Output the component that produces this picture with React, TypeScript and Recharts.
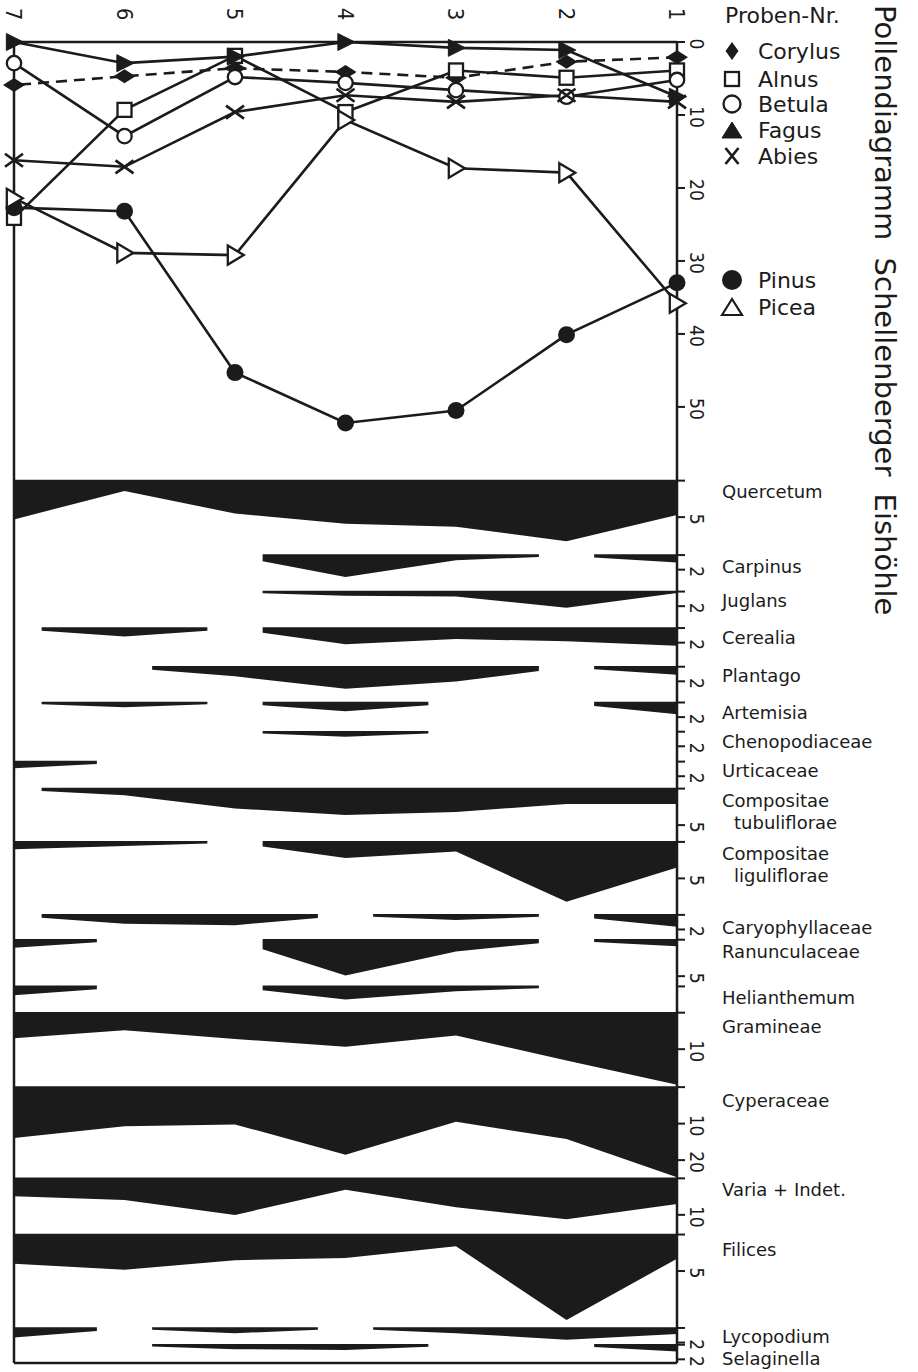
import React from "react";
import { Area, ComposedChart, Line, ReferenceLine, XAxis, YAxis } from "recharts";

const INK = "#1b1b1b";
const SANS = "'DejaVu Sans', Lato, sans-serif";
const NUM = "'DejaVu Sans Condensed', 'DejaVu Sans', sans-serif";

const W = 918;
const H = 1372;

// Proben-Nr.
const samples = [1, 2, 3, 4, 5, 6, 7];

// Baumpollen in %, Probe 1..7
const corylus = [2.1, 2.7, 4.9, 4.1, 3.6, 4.7, 5.9];
const alnus = [3.9, 4.9, 3.9, 9.6, 1.9, 9.3, 24.1];
const betula = [5.2, 7.5, 6.6, 5.6, 4.8, 12.9, 2.9];
const fagus = [7.5, 1.1, 0.8, 0, 2.0, 2.9, 0];
const abies = [8.2, 7.3, 8.2, 7.3, 9.6, 17.1, 16.2];
const pinus = [33.0, 40.1, 50.5, 52.2, 45.3, 23.2, 22.7];
const picea = [35.8, 17.9, 17.3, 10.7, 29.2, 28.9, 21.4];

const treeTicks = [0, 10, 20, 30, 40, 50];

// Silhouetten in %, Probe 1..7
const quercetum = [4.6, 8.2, 6.2, 5.8, 4.4, 1.3, 5.2];
const carpinus = [0.9, 0, 0.6, 2.9, 0, 0, 0];
const juglans = [0.1, 2.1, 0.55, 0.45, 0, 0, 0];
const cerealia = [2.3, 1.7, 1.4, 2.1, 0, 1.05, 0];
const plantago = [1.0, 0, 1.9, 2.9, 1.2, 0, 0];
const artemisia = [1.5, 0, 0, 1.1, 0, 0.55, 0];
const chenopodiaceae = [0, 0, 0, 0.6, 0, 0, 0];
const urticaceae = [0, 0, 0, 0, 0, 0, 0.8];
const compTubuliflorae = [2.0, 2.0, 3.1, 3.5, 2.6, 0.8, 0];
const compLiguliflorae = [3.4, 8.1, 1.2, 2.1, 0, 0.45, 0.9];
const caryophyllaceae = [1.5, 0, 0.6, 0, 1.3, 1.1, 0];
const ranunculaceae = [0.8, 0, 1.5, 4.8, 0, 0, 1.0];
const helianthemum = [0, 0, 0.55, 1.7, 0, 0, 1.1];
const gramineae = [19.5, 12.9, 6.0, 9.1, 7.0, 4.6, 6.8];
const cyperaceae = [24.5, 14.0, 9.3, 18.3, 10.0, 10.5, 13.7];
const variaIndet = [6.8, 11.0, 7.7, 2.9, 9.8, 5.7, 4.7];
const filices = [3.2, 11.6, 1.5, 3.1, 3.4, 4.7, 3.9];
const lycopodium = [0.7, 1.5, 0.6, 0, 0.6, 0, 1.2];
const selaginella = [0.8, 0, 0, 0.6, 0.5, 0, 0];

// y axis runs in % of the tree-pollen scale, downwards
const Y_MAX = 181;

// top = where a silhouette hangs from, scale 0.5 = half-size %
const bands = [
  { name: ["Quercetum"], values: quercetum, ticks: [5], top: 60.1, scale: 1, dy: 10 },
  { name: ["Carpinus"], values: carpinus, ticks: [2], top: 70.3, scale: 1, dy: 11 },
  { name: ["Juglans"], values: juglans, ticks: [2], top: 75.3, scale: 1, dy: 8 },
  { name: ["Cerealia"], values: cerealia, ticks: [2], top: 80.3, scale: 1, dy: 9 },
  { name: ["Plantago"], values: plantago, ticks: [2], top: 85.6, scale: 1, dy: 8 },
  { name: ["Artemisia"], values: artemisia, ticks: [2], top: 90.5, scale: 1, dy: 9 },
  { name: ["Chenopodiaceae"], values: chenopodiaceae, ticks: [2], top: 94.5, scale: 1, dy: 9 },
  { name: ["Urticaceae"], values: urticaceae, ticks: [2], top: 98.6, scale: 1, dy: 8 },
  { name: ["Compositae", "tubuliflorae"], values: compTubuliflorae, ticks: [5], top: 102.3, scale: 1, dy: 11 },
  { name: ["Compositae", "liguliflorae"], values: compLiguliflorae, ticks: [5], top: 109.6, scale: 1, dy: 11 },
  { name: ["Caryophyllaceae"], values: caryophyllaceae, ticks: [2], top: 119.6, scale: 1, dy: 12 },
  { name: ["Ranunculaceae"], values: ranunculaceae, ticks: [5], top: 123.0, scale: 1, dy: 11 },
  { name: ["Helianthemum"], values: helianthemum, ticks: [], top: 129.4, scale: 1, dy: 11 },
  { name: ["Gramineae"], values: gramineae, ticks: [10], top: 133.0, scale: 0.5, dy: 13 },
  { name: ["Cyperaceae"], values: cyperaceae, ticks: [10, 20], top: 143.2, scale: 0.5, dy: 13 },
  { name: ["Varia + Indet."], values: variaIndet, ticks: [10], top: 155.7, scale: 0.5, dy: 11 },
  { name: ["Filices"], values: filices, ticks: [5], top: 163.4, scale: 1, dy: 14 },
  { name: ["Lycopodium"], values: lycopodium, ticks: [2], top: 176.2, scale: 1, dy: 8 },
  { name: ["Selaginella"], values: selaginella, ticks: [2], top: 178.5, scale: 1, dy: 13 },
];

const rows = samples.map((sample, i) => {
  const row: Record<string, any> = {
    sample,
    corylus: corylus[i],
    alnus: alnus[i],
    betula: betula[i],
    fagus: fagus[i],
    abies: abies[i],
    pinus: pinus[i],
    picea: picea[i],
  };
  bands.forEach((b, j) => {
    row[`band${j}`] = [b.top, b.top + b.values[i] * b.scale];
  });
  return row;
});

// right axis: tree-pollen ticks, then per band a tick at its top + labelled ticks
type TickSpec = { value: number; text: string; band?: number };
const tickSpecs: TickSpec[] = [];
treeTicks.forEach((t) => tickSpecs.push({ value: t, text: String(t) }));
bands.forEach((b, j) => {
  tickSpecs.push({ value: b.top, text: "", band: j });
  b.ticks.forEach((t) => tickSpecs.push({ value: b.top + t * b.scale, text: String(t) }));
});
const tickValues = tickSpecs.map((t) => t.value);

// silhouette curve: d3 feeds the outer line then the base line; zero samples
// become gaps, with the trace running part of the way towards them
const TAPER = 0.75;
const EDGE = 0.8;
function silhouette(context: any) {
  let inArea = false;
  let pass = 0;
  let outer: number[][] = [];
  let inner: number[][] = [];
  const mix = (arr: number[][], i: number, j: number) => [
    arr[i][0] + (arr[j][0] - arr[i][0]) * TAPER,
    arr[i][1] + (arr[j][1] - arr[i][1]) * TAPER,
  ];
  const draw = () => {
    const base = inner.slice().reverse();
    const n = Math.min(outer.length, base.length);
    const on = (i: number) => Math.abs(outer[i][1] - base[i][1]) > 0.05;
    let i = 0;
    while (i < n) {
      if (!on(i)) {
        i++;
        continue;
      }
      const a = i;
      while (i + 1 < n && on(i + 1)) i++;
      const b = i;
      i++;
      const top: number[][] = [];
      const bot: number[][] = [];
      if (a > 0) {
        top.push(mix(outer, a, a - 1));
        bot.push(mix(base, a, a - 1));
      }
      for (let k = a; k <= b; k++) {
        top.push(outer[k]);
        bot.push(base[k]);
      }
      if (b < n - 1) {
        top.push(mix(outer, b, b + 1));
        bot.push(mix(base, b, b + 1));
      }
      const dir = Math.sign(outer[a][1] - base[a][1]) || 1;
      top.forEach(([x, y], k) => (k === 0 ? context.moveTo(x, y + dir * EDGE) : context.lineTo(x, y + dir * EDGE)));
      for (let k = bot.length - 1; k >= 0; k--) context.lineTo(bot[k][0], bot[k][1] - dir * EDGE);
      context.closePath();
    }
  };
  return {
    areaStart() {
      inArea = true;
      pass = 0;
      outer = [];
      inner = [];
    },
    areaEnd() {
      inArea = false;
      draw();
    },
    lineStart() {
      pass++;
    },
    lineEnd() {},
    point(x: number, y: number) {
      if (!inArea) return;
      (pass === 1 ? outer : inner).push([+x, +y]);
    },
  };
}

// markers
const diamond = (x: number, y: number, w: number, h: number) => (
  <path d={`M${x - w} ${y}L${x} ${y - h}L${x + w} ${y}L${x} ${y + h}Z`} fill={INK} />
);
const square = (x: number, y: number, s: number) => (
  <rect x={x - s / 2} y={y - s / 2} width={s} height={s} fill="#fff" stroke={INK} strokeWidth={2.3} />
);
const ring = (x: number, y: number, r: number) => (
  <circle cx={x} cy={y} r={r} fill="#fff" stroke={INK} strokeWidth={2.3} />
);
const disc = (x: number, y: number, r: number) => <circle cx={x} cy={y} r={r} fill={INK} />;
const cross = (x: number, y: number, w: number, h: number) => (
  <path d={`M${x - w} ${y - h}L${x + w} ${y + h}M${x - w} ${y + h}L${x + w} ${y - h}`} stroke={INK} strokeWidth={2.7} fill="none" />
);
const triRight = (x: number, y: number, w: number, h: number, open: boolean) => (
  <polygon
    points={`${x - w * 0.45},${y - h} ${x + w * 0.55},${y} ${x - w * 0.45},${y + h}`}
    fill={open ? "#fff" : INK}
    stroke={INK}
    strokeWidth={open ? 2.3 : 1}
  />
);
const triUp = (x: number, y: number, w: number, h: number, open: boolean) => (
  <polygon
    points={`${x - w},${y + h * 0.5} ${x},${y - h * 0.5} ${x + w},${y + h * 0.5}`}
    fill={open ? "#fff" : INK}
    stroke={INK}
    strokeWidth={open ? 2.2 : 1}
  />
);

const series = [
  { key: "corylus", dash: "11 7", draw: (x: number, y: number) => diamond(x, y, 11, 7) },
  { key: "alnus", dash: undefined, draw: (x: number, y: number) => square(x, y, 14) },
  { key: "betula", dash: undefined, draw: (x: number, y: number) => ring(x, y, 7.2) },
  { key: "fagus", dash: undefined, draw: (x: number, y: number) => triRight(x, y, 17, 8.5, false) },
  { key: "abies", dash: undefined, draw: (x: number, y: number) => cross(x, y, 9, 6.5) },
  { key: "pinus", dash: undefined, draw: (x: number, y: number) => disc(x, y, 8.5) },
  { key: "picea", dash: undefined, draw: (x: number, y: number) => triRight(x, y, 16, 9.5, true) },
];

const SampleTick = (props: any) => {
  const { x, payload } = props;
  return (
    <text transform={`translate(${x - 8} 14) rotate(90)`} textAnchor="middle" fontFamily={NUM} fontSize={22} fill={INK}>
      {payload.value}
    </text>
  );
};

const PctTick = (props: any) => {
  const { x, y, index, payload } = props;
  let spec = tickSpecs[index];
  if (!spec || spec.value !== payload.value) spec = tickSpecs.find((t) => t.value === payload.value) as TickSpec;
  if (!spec) return <g />;
  if (spec.band === undefined) {
    return (
      <text transform={`translate(${x + 1} ${y + 2}) rotate(90)`} textAnchor="middle" fontFamily={NUM} fontSize={19} fill={INK}>
        {spec.text}
      </text>
    );
  }
  const band = bands[spec.band];
  return (
    <text x={x + 33} y={y + band.dy} dominantBaseline="central" fontFamily={SANS} fontSize={18} fill={INK}>
      {band.name.map((line, k) => (
        <tspan key={k} x={x + 33 + (k > 0 ? 12 : 0)} dy={k > 0 ? 22 : 0}>
          {line}
        </tspan>
      ))}
    </text>
  );
};

const legendTrees = [
  { label: "Corylus", y: 59, draw: (x: number, y: number) => diamond(x, y, 6.5, 9) },
  { label: "Alnus", y: 87, draw: (x: number, y: number) => square(x, y, 14) },
  { label: "Betula", y: 112, draw: (x: number, y: number) => ring(x, y, 8.5) },
  { label: "Fagus", y: 138, draw: (x: number, y: number) => triUp(x, y, 10, 16, false) },
  { label: "Abies", y: 164, draw: (x: number, y: number) => cross(x, y, 6.5, 8) },
  { label: "Pinus", y: 288, draw: (x: number, y: number) => disc(x, y, 10) },
  { label: "Picea", y: 315, draw: (x: number, y: number) => triUp(x, y, 10, 16, true) },
];

export default function App() {
  return (
    <div style={{ position: "absolute", left: 0, top: 0, width: W, height: H, background: "#fff" }}>
      <ComposedChart width={W} height={H} data={rows} margin={{ top: 0, right: 0, bottom: 9, left: 0 }}>
        <XAxis
          dataKey="sample"
          type="number"
          domain={[1, 7]}
          ticks={samples}
          interval={0}
          reversed
          orientation="top"
          height={42}
          axisLine={{ stroke: INK, strokeWidth: 2.5 }}
          tickLine={false}
          tick={(p: any) => <SampleTick {...p} />}
        />
        <YAxis
          yAxisId="frame"
          orientation="left"
          width={14}
          type="number"
          domain={[0, Y_MAX]}
          reversed
          tick={false}
          tickLine={false}
          axisLine={{ stroke: INK, strokeWidth: 2.5 }}
        />
        <YAxis
          yAxisId="pct"
          orientation="right"
          width={241}
          type="number"
          domain={[0, Y_MAX]}
          reversed
          ticks={tickValues}
          interval={0}
          tickSize={8}
          tickMargin={4}
          tickLine={{ stroke: INK, strokeWidth: 2 }}
          axisLine={{ stroke: INK, strokeWidth: 2.5 }}
          tick={(p: any) => <PctTick {...p} />}
        />
        <ReferenceLine yAxisId="pct" y={Y_MAX} stroke={INK} strokeWidth={2.5} />
        {bands.map((b, j) => (
          <Area
            key={b.name.join(" ")}
            yAxisId="pct"
            dataKey={`band${j}`}
            type={silhouette as any}
            stroke="none"
            fill={INK}
            fillOpacity={1}
            dot={false}
            activeDot={false}
            isAnimationActive={false}
          />
        ))}
        {series.map((s) => (
          <Line
            key={s.key}
            yAxisId="pct"
            dataKey={s.key}
            type="linear"
            stroke={INK}
            strokeWidth={2.6}
            strokeDasharray={s.dash}
            dot={(p: any) => <g key={`${s.key}-${p.index}`}>{s.draw(p.cx, p.cy)}</g>}
            activeDot={false}
            isAnimationActive={false}
          />
        ))}
      </ComposedChart>
      <svg width={W} height={H} style={{ position: "absolute", left: 0, top: 0, pointerEvents: "none" }}>
        <text x={725} y={23} fontFamily={SANS} fontSize={22} fill={INK}>
          Proben-Nr.
        </text>
        {legendTrees.map((l) => (
          <g key={l.label}>
            {l.draw(732, l.y - 8)}
            <text x={758} y={l.y} fontFamily={SANS} fontSize={22} fill={INK}>
              {l.label}
            </text>
          </g>
        ))}
        <text transform="translate(875 5) rotate(90)" fontFamily={SANS} fontSize={29} wordSpacing={8} fill={INK}>
          Pollendiagramm Schellenberger Eishöhle
        </text>
      </svg>
    </div>
  );
}
